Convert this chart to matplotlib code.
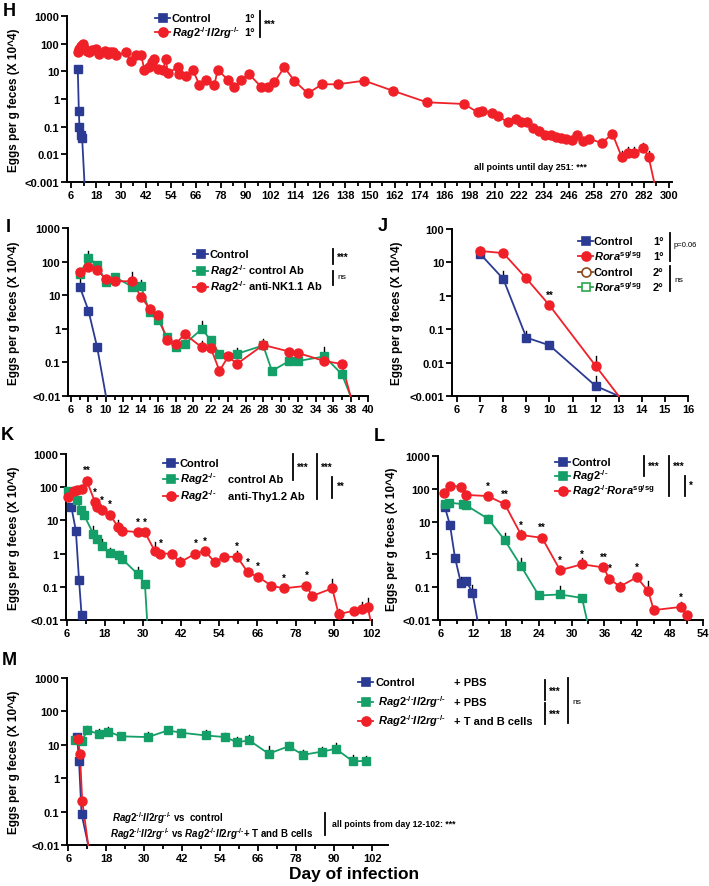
import matplotlib
matplotlib.use('Agg')
import matplotlib.pyplot as plt
import matplotlib.transforms as mtransforms
from matplotlib.lines import Line2D
from matplotlib.ticker import NullLocator
import numpy as np

plt.rcParams['font.family'] = ['Liberation Sans', 'DejaVu Sans']
plt.rcParams['font.weight'] = 'bold'
plt.rcParams['mathtext.fontset'] = 'custom'
plt.rcParams['mathtext.rm'] = 'Liberation Sans:bold'
plt.rcParams['mathtext.it'] = 'Liberation Sans:italic:bold'
plt.rcParams['mathtext.bf'] = 'Liberation Sans:bold'

BLUE = '#2b3a93'
RED = '#f02028'
GREEN = '#159f68'

# ---------------- H ----------------
h_ctrl_day = [9.2, 9.7, 10.0, 10.7, 11.3, 12.4]
h_ctrl_val = [12, 0.37, 0.1, 0.05, 0.038, 0.001]
h_rag_day = [9.2, 10.0, 10.8, 11.6, 12.4, 13.5, 14.8, 16.1, 18.0, 19.6, 22.5, 23.7, 24.9, 26.1,
             27.7, 32.2, 34.9, 37.3, 39.7, 41.3, 43.7, 45.0, 45.8, 47.7, 50.1, 51.7, 52.5, 57.4,
             58.2, 61.4, 64.6, 67.8, 71.0, 75.0, 76.6, 81.4, 84.7, 87.9, 91.6, 97.5, 100.7, 103.9,
             108.7, 113.5, 120.0, 126.9, 134.4, 147.2, 160.9, 177.4, 195.4, 201.8, 203.9, 209.0,
             211.8, 216.3, 220.3, 222.7, 225.4, 228.3, 231.2, 234.4, 237.1, 239.5, 241.9, 244.3,
             247.1, 249.7, 252.4, 255.6, 261.7, 266.8, 271.2, 274.1, 277.3, 281.6, 284.2, 286.9]
h_rag_val = [48, 63, 83, 95, 72, 55, 48, 60, 66, 42, 55, 42, 48, 50,
             38, 48, 24, 38, 38, 11.5, 14, 22, 27, 12, 11, 27, 8.7, 14,
             8, 6.6, 11.5, 3.2, 4.8, 3.2, 11.5, 5, 2.8, 4.8, 8, 2.8, 2.8, 4,
             14, 4.6, 1.6, 3.4, 3.4, 4.6, 2, 0.76, 0.66, 0.33, 0.38, 0.31,
             0.24, 0.145, 0.19, 0.15, 0.15, 0.087, 0.072, 0.05, 0.048, 0.042, 0.038, 0.036,
             0.032, 0.05, 0.03, 0.036, 0.026, 0.055, 0.0083, 0.011, 0.011, 0.017, 0.0083, 0.001]
h_err_day = [18.0, 41.3, 52.5, 57.4, 134.4, 177.4, 225.4, 231.2, 237.1, 241.9, 271.2, 274.1, 277.3, 281.6, 284.2]
h_err_top = [85, 15, 11, 19, 4.6, 1.0, 0.2, 0.1, 0.065, 0.055, 0.013, 0.018, 0.018, 0.026, 0.013]
h_xtick_pos = list(range(6, 295, 12))
h_xtick_lab = [str(v) for v in range(6, 283, 12)] + ['300']
h_ytick = [0.001, 0.01, 0.1, 1, 10, 100, 1000]
h_ylab = ['<0.001', '0.01', '0.1', '1', '10', '100', '1000']

# ---------------- I ----------------
i_ctrl_day = [7, 8, 9, 10]
i_ctrl_val = [18, 3.5, 0.28, 0.01]
i_rag_day = [7, 8, 9, 10, 11, 13, 14, 15, 16, 17, 18, 19, 21, 22, 23, 25, 28, 29, 31, 32, 35, 37, 38]
i_rag_val = [42, 130, 80, 25, 35, 18, 19, 3.2, 1.8, 0.56, 0.28, 0.35, 1.0, 0.45, 0.18, 0.18, 0.32,
             0.056, 0.11, 0.11, 0.15, 0.045, 0.01]
i_nk_day = [7, 8, 9, 10, 11, 13, 14, 15, 16, 17, 18, 19, 21, 22, 23, 24, 25, 28, 31, 32, 35, 37, 38]
i_nk_val = [50, 70, 56, 30, 26, 26, 9, 4, 2.5, 0.45, 0.35, 0.7, 0.28, 0.27, 0.056, 0.15, 0.09, 0.33,
            0.21, 0.19, 0.11, 0.09, 0.01]
i_ctrl_err_day, i_ctrl_err_top = [7], [38]
i_rag_err_day = [8, 13, 14, 15, 16, 21, 25, 28, 35]
i_rag_err_top = [200, 50, 28, 5, 3.5, 1.7, 0.27, 0.5, 0.28]
i_nk_err_day, i_nk_err_top = [21], [0.42]
i_ytick = [0.01, 0.1, 1, 10, 100, 1000]
i_ylab = ['<0.01', '0.1', '1', '10', '100', '1000']

# ---------------- J ----------------
j_ctrl_day = [7, 8, 9, 10, 12, 13]
j_ctrl_val = [18, 3.2, 0.056, 0.033, 0.002, 0.001]
j_rora_day = [7, 8, 9, 10, 12, 13]
j_rora_val = [22, 19, 3.3, 0.52, 0.008, 0.001]
j_ctrl_err_day, j_ctrl_err_top = [7, 8, 9, 12], [28, 5.5, 0.09, 0.004]
j_rora_err_day, j_rora_err_top = [7, 12], [28, 0.016]
j_ytick = [0.001, 0.01, 0.1, 1, 10, 100]
j_ylab = ['<0.001', '0.01', '0.1', '1', '10', '100']

# ---------------- K ----------------
k_ctrl_day = [7.5, 8.9, 9.9, 10.7]
k_ctrl_val = [25, 4.9, 0.16, 0.014]
k_rag_day = [6.5, 9.4, 10.4, 11.4, 14.4, 15.6, 17.2, 19.6, 22.4, 23.5, 28.4, 30.6, 31.3]
k_rag_val = [75, 42, 20, 15, 3.9, 2.8, 1.7, 1.07, 0.9, 0.68, 0.24, 0.125, 0.01]
k_thy_day = [6.5, 8.3, 9.4, 10.9, 12.3, 14.9, 15.6, 17.0, 19.6, 22.1, 23.5, 28.4, 30.6, 33.7, 35.5,
             39.2, 41.5, 46.5, 49.5, 52.6, 55.4, 59.6, 63.0, 66.2, 70.4, 74.3, 81.4, 83.2, 89.5,
             91.5, 96.3, 98.9, 100.7, 101.5]
k_thy_val = [49, 78, 83, 88, 158, 36, 25, 20, 15, 6.4, 4.9, 4.4, 4.4, 1.2, 1.0,
             1.0, 0.54, 1.0, 1.2, 0.54, 0.8, 0.8, 0.27, 0.2, 0.107, 0.09, 0.107, 0.053, 0.09,
             0.015, 0.019, 0.022, 0.024, 0.01]
k_rag_err_day = [14.4, 17.2, 19.6, 22.4, 28.4]
k_rag_err_top = [7, 2.8, 1.5, 1.2, 0.4]
k_thy_err_day = [17.0, 22.1, 33.7, 41.5, 59.6, 89.5, 91.5, 98.9, 100.7]
k_thy_err_top = [28, 10, 2.2, 0.8, 1.2, 0.17, 0.022, 0.035, 0.045]
k_star_day = [12.3, 14.9, 17.0, 19.6, 28.4, 30.6, 35.5, 46.5, 49.5, 59.6, 63.0, 66.2, 74.3, 81.4]
k_star_lab = ['**', '*', '*', '*', '*', '*', '*', '*', '*', '*', '*', '*', '*', '*']
k_ytick = [0.01, 0.1, 1, 10, 100, 1000]
k_ylab = ['<0.01', '0.1', '1', '10', '100', '1000']

# ---------------- L ----------------
l_ctrl_day = [6.85, 7.8, 8.7, 9.8, 10.8, 11.9, 12.8]
l_ctrl_val = [28, 7.7, 0.8, 0.13, 0.15, 0.068, 0.01]
l_rag_day = [6.85, 7.6, 10.1, 10.8, 14.8, 17.8, 20.8, 24.0, 27.9, 31.9, 32.8]
l_rag_val = [34, 38, 34, 31, 12, 2.7, 0.43, 0.056, 0.06, 0.047, 0.01]
l_rora_day = [6.7, 7.8, 9.8, 10.8, 14.7, 17.8, 20.8, 24.6, 27.9, 31.9, 35.8, 36.9, 38.8, 41.9,
              44.0, 45.0, 49.9, 51.1]
l_rora_val = [73, 126, 115, 65, 60, 34, 3.9, 3.2, 0.33, 0.5, 0.4, 0.18, 0.105, 0.2,
              0.076, 0.02, 0.025, 0.014]
l_ctrl_err_day, l_ctrl_err_top = [9.8, 11.9], [0.2, 0.12]
l_rag_err_day, l_rag_err_top = [14.8, 17.8, 20.8, 27.9], [16, 4.5, 0.8, 0.11]
l_rora_err_day = [6.7, 20.8, 31.9, 38.8, 44.0, 49.9]
l_rora_err_top = [100, 5.5, 0.75, 0.14, 0.16, 0.035]
l_star_day = [14.7, 17.8, 20.8, 24.6, 27.9, 31.9, 35.8, 36.9, 41.9, 49.9]
l_star_lab = ['*', '**', '*', '**', '*', '*', '**', '*', '*', '*']

# ---------------- M ----------------
m_ctrl_day = [8.8, 9.4, 10.2, 12.3]
m_ctrl_val = [17, 3.2, 0.085, 0.01]
m_pbs_day = [8.1, 10.2, 12.0, 15.8, 18.6, 22.5, 31.2, 37.5, 41.7, 49.5, 55.6, 59.2, 63.2, 69.3,
             75.6, 80.2, 86.3, 90.5, 95.9, 99.9]
m_pbs_val = [13.5, 12.6, 27, 21, 25, 18, 17, 27, 23, 19, 17, 12, 13.5, 5.4,
             9, 5, 6.3, 7.6, 3.2, 3.3]
m_tb_day = [9.1, 9.7, 10.4, 12.3]
m_tb_val = [15, 5.4, 0.21, 0.01]
m_pbs_err_day = [12.0, 15.8, 18.6, 31.2, 37.5, 41.7, 49.5, 55.6, 59.2, 63.2, 69.3, 75.6, 80.2,
                 86.3, 90.5, 95.9, 99.9]
m_pbs_err_top = [37, 30, 33, 24, 32, 30, 27, 23, 17, 19, 9.5, 12, 7, 8.5, 11, 5, 4.6]

YLABEL = 'Eggs per g feces (X 10^4)'

W, H = 709, 887
fig = plt.figure(figsize=(W / 100, H / 100), dpi=100)
px = mtransforms.Affine2D().scale(1 / W, -1 / H).translate(0, 1) + fig.transFigure


def make_axes(l, t, r, b, xlim, xticks, xlabels, minor, yticks, ylabels, ylab_x):
    ax = fig.add_axes([l / W, 1 - b / H, (r - l) / W, (b - t) / H])
    ax.set_yscale('log')
    ax.set_xlim(*xlim)
    ax.set_ylim(yticks[0], yticks[-1])
    ax.set_xticks(xticks)
    ax.set_xticklabels(xlabels)
    ax.set_xticks(minor, minor=True)
    ax.set_yticks(yticks)
    ax.set_yticklabels(ylabels)
    ax.yaxis.set_minor_locator(NullLocator())
    for s in ['top', 'right']:
        ax.spines[s].set_visible(False)
    for s in ['left', 'bottom']:
        ax.spines[s].set_linewidth(1.4)
    ax.tick_params(which='major', direction='out', length=4, width=1.3, labelsize=8, pad=1.5)
    ax.tick_params(which='minor', direction='out', length=3, width=1.3)
    ax.set_ylabel(YLABEL, fontsize=8.5, fontweight='bold')
    ax.yaxis.set_label_coords((ylab_x - l) / (r - l), 0.5)
    ax.patch.set_alpha(0)
    return ax


def draw_series(ax, days, vals, color, marker, err_day=(), err_top=()):
    days = np.asarray(days, float)
    vals = np.asarray(vals, float)
    floor = ax.get_ylim()[0]
    for d, t in zip(err_day, err_top):
        i = int(np.argmin(np.abs(days - d)))
        ax.plot([days[i], days[i]], [vals[i], t], color='black', lw=1.0, zorder=2, clip_on=False)
    ax.plot(days, vals, color=color, lw=1.3, zorder=3, clip_on=False)
    keep = vals > floor * 1.0001
    ms = 5.8 if marker == 's' else 6.5
    ax.plot(days[keep], vals[keep], ls='none', marker=marker, ms=ms, color=color,
            mec=color, zorder=4, clip_on=False)


def stars(ax, days, vals, sd, sl):
    days = np.asarray(days, float)
    for d, s in zip(sd, sl):
        i = int(np.argmin(np.abs(days - d)))
        ax.annotate(s, (days[i], vals[i]), xytext=(0, 4), textcoords='offset points',
                    ha='center', va='bottom', fontsize=7, fontweight='bold')


def txt(x, y, s, size=8, ha='left', va='center', weight='bold'):
    fig.text(x, y, s, transform=px, fontsize=size, ha=ha, va=va, fontweight=weight)


def leg_row(x0, y, color, marker, filled=True):
    fig.add_artist(Line2D([x0, x0 + 15], [y, y], transform=px, color=color, lw=1.3))
    ms = 5.8 if marker == 's' else 6.5
    fig.add_artist(Line2D([x0 + 7.5], [y], transform=px, marker=marker, ms=ms, color=color,
                          mec=color, mfc=color if filled else 'white', ls='none',
                          mew=1.2))


def vbar(x, y0, y1):
    fig.add_artist(Line2D([x, x], [y0, y1], transform=px, color='black', lw=1.3))


KO = r'^{\text{-/-}}'
RAG = r'$\mathit{Rag2}' + KO + '$'
RAGIL = r'$\mathit{Rag2}' + KO + r'\mathit{Il2rg}' + KO + '$'
RORA = r'$\mathit{Rora}^{\text{sg/sg}}$'

# H
ax = make_axes(67, 17, 672, 183, (4, 295.5), h_xtick_pos, h_xtick_lab,
               list(range(12, 289, 12)), h_ytick, h_ylab, 20)
draw_series(ax, h_ctrl_day, h_ctrl_val, BLUE, 's')
draw_series(ax, h_rag_day, h_rag_val, RED, 'o', h_err_day, h_err_top)
txt(530, 168, 'all points until day 251: ***', size=6.5, ha='center')
leg_row(155, 19, BLUE, 's')
leg_row(155, 33, RED, 'o')
txt(172, 19, 'Control')
txt(172, 33, RAGIL)
txt(244, 19, '1°')
txt(244, 33, '1°')
vbar(260, 12, 38)
txt(264, 25, '***', size=7)

# I
ax = make_axes(68, 229, 368, 397, (5.66, 40), list(range(6, 41, 2)),
               [str(v) for v in range(6, 41, 2)], list(range(7, 40, 2)), i_ytick, i_ylab, 20)
draw_series(ax, i_ctrl_day, i_ctrl_val, BLUE, 's', i_ctrl_err_day, i_ctrl_err_top)
draw_series(ax, i_rag_day, i_rag_val, GREEN, 's', i_rag_err_day, i_rag_err_top)
draw_series(ax, i_nk_day, i_nk_val, RED, 'o', i_nk_err_day, i_nk_err_top)
leg_row(193, 255, BLUE, 's')
leg_row(193, 272, GREEN, 's')
leg_row(193, 288, RED, 'o')
txt(210, 255, 'Control')
txt(210, 271, RAG + ' control Ab')
txt(210, 287, RAG + ' anti-NK1.1 Ab')
vbar(333, 250, 265)
txt(337, 258, '***', size=7)
vbar(333, 272, 286)
txt(337, 278, 'ns', size=6, weight='normal')

# J
ax = make_axes(452, 230, 688, 397, (5.78, 16), list(range(6, 17)),
               [str(v) for v in range(6, 17)], [], j_ytick, j_ylab, 403)
draw_series(ax, j_ctrl_day, j_ctrl_val, BLUE, 's', j_ctrl_err_day, j_ctrl_err_top)
draw_series(ax, j_rora_day, j_rora_val, RED, 'o', j_rora_err_day, j_rora_err_top)
stars(ax, j_rora_day, j_rora_val, [10], ['**'])
leg_row(578, 242, BLUE, 's')
leg_row(578, 257, RED, 'o')
leg_row(578, 273, '#8b4a1c', 'o', filled=False)
leg_row(578, 288, '#2aa84a', 's', filled=False)
txt(594, 242, 'Control')
txt(594, 256, RORA)
txt(594, 273, 'Control')
txt(594, 287, RORA)
txt(653, 242, '1°')
txt(653, 257, '1°')
txt(653, 273, '2°')
txt(653, 288, '2°')
vbar(670, 234, 262)
txt(674, 246, 'p=0.06', size=5.5, weight='normal')
vbar(670, 267, 292)
txt(674, 281, 'ns', size=6, weight='normal')

# K
ax = make_axes(66, 455, 372, 621, (5.8, 102), list(range(6, 103, 12)),
               [str(v) for v in range(6, 103, 12)], list(range(12, 97, 12)), k_ytick, k_ylab, 20)
draw_series(ax, k_ctrl_day, k_ctrl_val, BLUE, 's')
draw_series(ax, k_rag_day, k_rag_val, GREEN, 's', k_rag_err_day, k_rag_err_top)
draw_series(ax, k_thy_day, k_thy_val, RED, 'o', k_thy_err_day, k_thy_err_top)
stars(ax, k_thy_day, k_thy_val, k_star_day, k_star_lab)
leg_row(163, 464, BLUE, 's')
leg_row(163, 480, GREEN, 's')
leg_row(163, 497, RED, 'o')
txt(180, 464, 'Control')
txt(180, 479, RAG)
txt(180, 496, RAG)
txt(228, 480, 'control Ab')
txt(228, 497, 'anti-Thy1.2 Ab')
vbar(293, 455, 481)
txt(297, 468, '***', size=7)
vbar(317, 455, 500)
txt(321, 468, '***', size=7)
vbar(332, 478, 499)
txt(337, 487, '**', size=7)

# L
ax = make_axes(438, 457, 703, 621, (5.6, 54), list(range(6, 55, 6)),
               [str(v) for v in range(6, 55, 6)], list(range(9, 52, 6)), k_ytick, k_ylab, 398)
draw_series(ax, l_ctrl_day, l_ctrl_val, BLUE, 's', l_ctrl_err_day, l_ctrl_err_top)
draw_series(ax, l_rag_day, l_rag_val, GREEN, 's', l_rag_err_day, l_rag_err_top)
draw_series(ax, l_rora_day, l_rora_val, RED, 'o', l_rora_err_day, l_rora_err_top)
stars(ax, l_rora_day, l_rora_val, l_star_day, l_star_lab)
leg_row(555, 463, BLUE, 's')
leg_row(555, 477, GREEN, 's')
leg_row(555, 492, RED, 'o')
txt(572, 463, 'Control')
txt(572, 476, RAG)
txt(572, 491, r'$\mathit{Rag2}' + KO + r'\mathit{Rora}^{\text{sg/sg}}$')
vbar(644, 457, 477)
txt(648, 467, '***', size=7)
vbar(669, 457, 497)
txt(673, 467, '***', size=7)
vbar(685, 477, 497)
txt(689, 486, '*', size=7)

# M
ax = make_axes(67, 679, 388, 846, (5.6, 107), list(range(6, 103, 12)),
               [str(v) for v in range(6, 103, 12)], list(range(12, 97, 12)), k_ytick, k_ylab, 20)
draw_series(ax, m_ctrl_day, m_ctrl_val, BLUE, 's')
draw_series(ax, m_pbs_day, m_pbs_val, GREEN, 's', m_pbs_err_day, m_pbs_err_top)
draw_series(ax, m_tb_day, m_tb_val, RED, 'o')
leg_row(358, 683, BLUE, 's')
leg_row(358, 703, GREEN, 's')
leg_row(358, 722, RED, 'o')
txt(375, 683, 'Control')
txt(378, 702, RAGIL)
txt(378, 721, RAGIL)
txt(454, 683, '+ PBS')
txt(454, 703, '+ PBS')
txt(454, 722, '+ T and B cells')
vbar(545, 681, 701)
txt(549, 692, '***', size=7)
vbar(545, 704, 725)
txt(549, 715, '***', size=7)
vbar(568, 679, 724)
txt(572, 703, 'ns', size=6, weight='normal')
txt(112, 818, RAGIL + ' vs  control', size=7.0)
txt(110, 834, RAGIL + ' vs ' + RAGIL + '+ T and B cells', size=7.0)
vbar(325, 814, 836)
txt(332, 825, 'all points from day 12-102: ***', size=6.3)
txt(354, 875, 'Day of infection', size=12.5, ha='center')

# panel letters
for letter, x, y in [('H', 9, 11), ('I', 8, 228), ('J', 383, 227),
                     ('K', 7, 436), ('L', 379, 437), ('M', 9, 661)]:
    txt(x, y, letter, size=13, ha='center')

fig.savefig('out.png', dpi=100)
